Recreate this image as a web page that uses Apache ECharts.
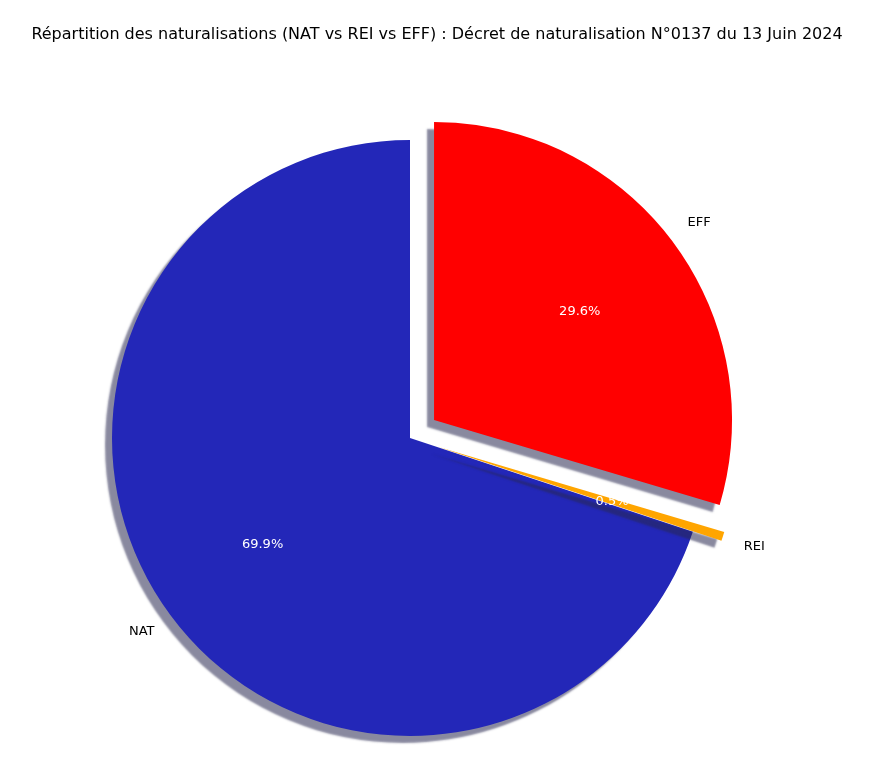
<!DOCTYPE html>
<html><head><meta charset="utf-8">
<script src="https://cdn.jsdelivr.net/npm/echarts@6/dist/echarts.min.js"></script>
<style>html,body{margin:0;padding:0;background:#fff}#c{width:874px;height:766px}</style>
</head><body><div id="c"></div>
<script>
const categories = ['NAT', 'REI', 'EFF'];
const values = [69.9, 0.5, 29.6];
const colors = ['#2327b8', '#ffa500', '#ff0000'];
const exploded = [false, true, true];

const R = 298;
const center = [410, 438];
const font = 'DejaVu Sans';
function mk(kind) {
  return categories.map((c, i) => ({
    name: c, value: values[i], selected: exploded[i],
    itemStyle: kind === 'main' ? {color: colors[i]} : {color: 'rgba(0,0,0,0)'}
  }));
}
const base = {type: 'pie', center: center, startAngle: 90, clockwise: false,
  selectedMode: 'multiple', selectedOffset: 30, animation: false, avoidLabelOverlap: false,
  labelLine: {show: false}, emphasis: {disabled: true}};
const chart = echarts.init(document.getElementById('c'));
chart.setOption({
  title: {text: 'Répartition des naturalisations (NAT vs REI vs EFF) : Décret de naturalisation N°0137 du 13 Juin 2024',
    left: 'center', top: 22, textStyle: {fontFamily: font, fontSize: 16, fontWeight: 'normal', color: '#000'}},
  series: [
    Object.assign({}, base, {radius: R, data: mk('main'), label: {show: false},
      itemStyle: {shadowColor: 'rgba(40,40,80,0.55)', shadowBlur: 2, shadowOffsetX: -7, shadowOffsetY: 7}}),
    Object.assign({}, base, {radius: R * 1.2, silent: true, data: mk('t'),
      label: {show: true, position: 'inside', formatter: p => p.value.toFixed(1) + '%',
        color: '#fff', fontFamily: font, fontSize: 13}}),
    Object.assign({}, base, {radius: R * 2.2, silent: true, data: mk('t'),
      label: {show: true, position: 'inside', formatter: '{b}', color: '#000', fontFamily: font, fontSize: 13}})
  ]
});
</script></body></html>
